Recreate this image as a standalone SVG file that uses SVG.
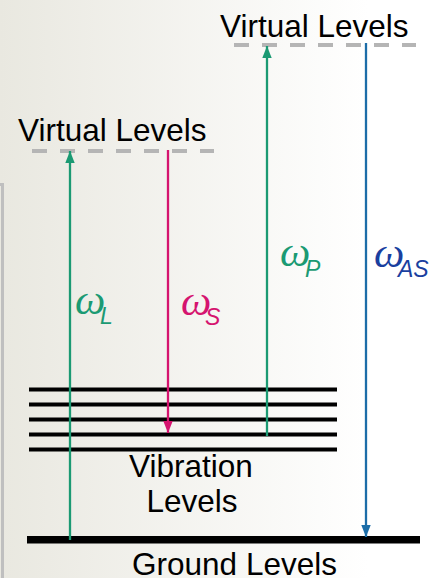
<svg xmlns="http://www.w3.org/2000/svg" width="433" height="578" viewBox="0 0 433 578">
  <defs>
    <linearGradient id="bg" x1="0" y1="0" x2="1" y2="0">
      <stop offset="0" stop-color="#e9e8e0"/>
      <stop offset="0.85" stop-color="#ffffff"/>
      <stop offset="1" stop-color="#ffffff"/>
    </linearGradient>
    <marker id="ahG" markerUnits="userSpaceOnUse" markerWidth="12" markerHeight="15" refX="14" refY="5.5" orient="auto" viewBox="0 0 14 11">
      <path d="M0,0 L14,5.5 L0,11 Z" fill="#1b9a73"/>
    </marker>
    <marker id="ahM" markerUnits="userSpaceOnUse" markerWidth="12" markerHeight="15" refX="14" refY="5.5" orient="auto" viewBox="0 0 14 11">
      <path d="M0,0 L14,5.5 L0,11 Z" fill="#d5146f"/>
    </marker>
    <marker id="ahB" markerUnits="userSpaceOnUse" markerWidth="12" markerHeight="15" refX="14" refY="5.5" orient="auto" viewBox="0 0 14 11">
      <path d="M0,0 L14,5.5 L0,11 Z" fill="#1c6da8"/>
    </marker>
  </defs>
  <style>
    .lbl { font-family: "Liberation Sans", Arial, sans-serif; font-size: 31.5px; fill: #000; }
    .virt { stroke: #b5b5b5; stroke-width: 4; stroke-dasharray: 15 13; fill: none; }
    .vib { stroke: #000; stroke-width: 4; }
    .om { font-family: "Liberation Serif", "Times New Roman", serif; font-style: italic; font-size: 43px; }
    .sub { font-family: "Liberation Sans", Arial, sans-serif; font-style: italic; font-size: 23px; }
    .green { fill: #1b9a73; }
    .mag { fill: #d5146f; }
    .blue { fill: #1a3f9f; }
    .arr { stroke-width: 2.3; fill: none; }
  </style>
  <rect width="433" height="578" fill="url(#bg)"/>
  <path d="M0,184.5 H2.5 V578" fill="none" stroke="#bfbfbf" stroke-width="3"/>

  <g id="virtual-upper">
    <line class="virt" x1="234" y1="45" x2="416" y2="45"/>
    <text class="lbl" x="220" y="36.5">Virtual Levels</text>
  </g>
  <g id="virtual-lower">
    <line class="virt" x1="32" y1="151" x2="214" y2="151"/>
    <text class="lbl" x="18" y="141">Virtual Levels</text>
  </g>
  <g id="vibration-levels">
    <line class="vib" x1="29" y1="389.5" x2="337" y2="389.5"/>
    <line class="vib" x1="29" y1="404.5" x2="337" y2="404.5"/>
    <line class="vib" x1="29" y1="419.5" x2="337" y2="419.5"/>
    <line class="vib" x1="29" y1="434.5" x2="337" y2="434.5"/>
    <line class="vib" x1="29" y1="449.5" x2="337" y2="449.5"/>
    <text class="lbl" x="191" y="477" text-anchor="middle">Vibration</text>
    <text class="lbl" x="192" y="512" text-anchor="middle">Levels</text>
  </g>
  <g id="ground-level">
    <rect x="27" y="536" width="393" height="7.5" fill="#000"/>
    <text class="lbl" x="234.5" y="574.5" text-anchor="middle">Ground Levels</text>
  </g>

  <g id="connectors">
    <line class="arr" x1="70" y1="540" x2="70" y2="151" stroke="#1b9a73" marker-end="url(#ahG)"/>
    <line class="arr" x1="168" y1="150" x2="168" y2="433" stroke="#d5146f" marker-end="url(#ahM)"/>
    <line class="arr" x1="267" y1="436" x2="267" y2="46" stroke="#1b9a73" marker-end="url(#ahG)"/>
    <line class="arr" x1="366" y1="43" x2="366" y2="537" stroke="#1c6da8" marker-end="url(#ahB)"/>
  </g>

  <g id="label-L">
    <text class="green"><tspan class="om" x="75" y="314">ω</tspan><tspan class="sub" x="100" y="323.5">L</tspan></text>
  </g>
  <g id="label-S">
    <text class="mag"><tspan class="om" x="181" y="314.5">ω</tspan><tspan class="sub" x="205" y="324.5">S</tspan></text>
  </g>
  <g id="label-P">
    <text class="green"><tspan class="om" x="280" y="266">ω</tspan><tspan class="sub" x="305" y="276.7">P</tspan></text>
  </g>
  <g id="label-AS">
    <text class="blue"><tspan class="om" x="374" y="266.5">ω</tspan><tspan class="sub" x="398" y="276.7">AS</tspan></text>
  </g>
</svg>
